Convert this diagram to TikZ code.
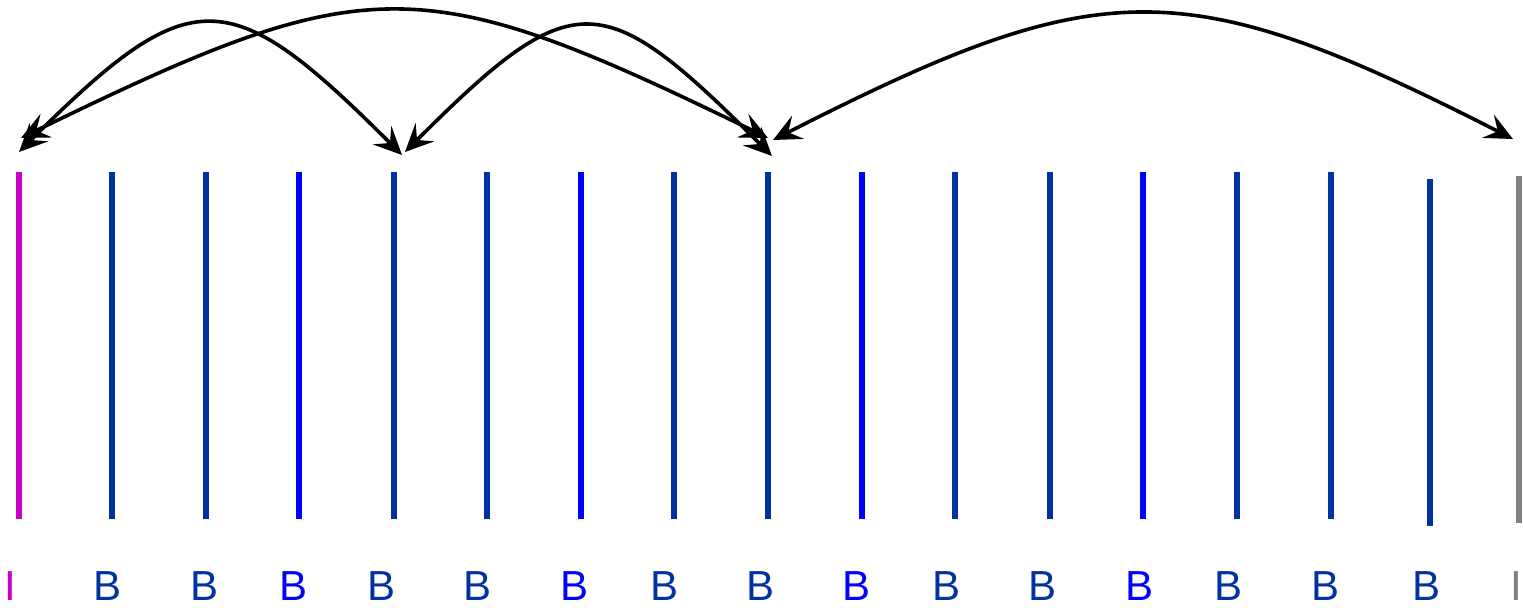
\documentclass[tikz,border=0pt]{standalone}
\usepackage{fontspec}
\setmainfont{Liberation Sans}
\usetikzlibrary{arrows.meta}
\definecolor{iColor}{HTML}{C800C8}
\definecolor{bColor}{HTML}{0033A0}
\definecolor{bbColor}{HTML}{0000FF}
\definecolor{endColor}{HTML}{808080}

\begin{document}
\begin{tikzpicture}[x=0.5pt, y=0.5pt,
    bar/.style={line width=3pt},
    lbl/.style={font=\fontsize{21}{23}\selectfont, anchor=base, inner sep=0pt},
    hop/.style={line width=1.8pt,
        {Stealth[length=14pt,width=13pt,inset=5.5pt]}-{Stealth[length=14pt,width=13pt,inset=5.5pt]}}]
    \useasboundingbox (0,0) rectangle (1523,607);
    \foreach \n/\x/\lx/\c/\t/\ya/\yb in {
        1/18.5/10.3/iColor/I/88/435, 2/112/108/bColor/B/88/435,
        3/205.5/204.7/bColor/B/88/435, 4/299/293.8/bbColor/B/88/435,
        5/393.5/382/bColor/B/88/435, 6/487/478/bColor/B/88/435,
        7/580.5/575/bbColor/B/88/435, 8/674/664.7/bColor/B/88/435,
        9/768/761/bColor/B/88/435, 10/861.5/857/bbColor/B/88/435,
        11/955/947/bColor/B/88/435, 12/1049.5/1043/bColor/B/88/435,
        13/1143/1140/bbColor/B/88/435, 14/1236.5/1228.7/bColor/B/88/435,
        15/1331/1325/bColor/B/88/435, 16/1430/1426.7/bColor/B/81/428,
        17/1519.3/1516.7/endColor/I/84.3/431}
    {
        \draw[bar, \c] (\x,\yb) coordinate (top\n) -- (\x,\ya) coordinate (bot\n);
        \node[lbl, text=\c] (lab\n) at (\lx,7) {\t};
    }
    \coordinate (hopA1) at (19,455);
    \coordinate (hopA2) at (402,452);
    \coordinate (hopB1) at (21,469);
    \coordinate (hopB2) at (768,469);
    \coordinate (hopC1) at (405,455);
    \coordinate (hopC2) at (772,451);
    \coordinate (hopD1) at (773,467);
    \coordinate (hopD2) at (1513,468);
    \draw[hop] (hopA1) to[out=45, in=135, looseness=1.63] (hopA2);
    \draw[hop] (hopB1) to[out=26, in=154, looseness=1.33] (hopB2);
    \draw[hop] (hopC1) to[out=45, in=135, looseness=1.67] (hopC2);
    \draw[hop] (hopD1) to[out=27, in=153, looseness=1.28] (hopD2);
\end{tikzpicture}
\end{document}
